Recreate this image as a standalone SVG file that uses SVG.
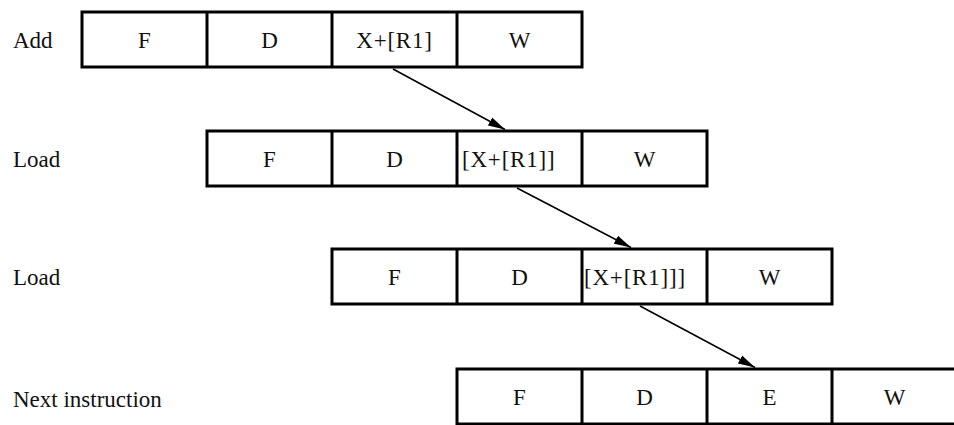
<svg xmlns="http://www.w3.org/2000/svg" width="954" height="425" viewBox="0 0 954 425">
<style>
.box{fill:#fff;stroke:#000;stroke-width:3}
.div{stroke:#000;stroke-width:3}
.t{font-family:"Liberation Serif","Times New Roman",serif;font-size:23px;fill:#111}
.c{text-anchor:middle}
.conn{stroke:#000;stroke-width:1.5;fill:none}
</style>
<defs>
<marker id="ah" markerUnits="userSpaceOnUse" markerWidth="18" markerHeight="10" refX="17" refY="5" orient="auto">
<path d="M0,0.5 L17,5 L0,9.5 z" fill="#000"/>
</marker>
</defs>
<rect width="954" height="425" fill="#fff"/>
<g id="row-add">
<text class="t" x="13" y="48">Add</text>
<rect class="box" x="82" y="12" width="500" height="55"/>
<line class="div" x1="207" y1="12" x2="207" y2="67"/>
<line class="div" x1="332" y1="12" x2="332" y2="67"/>
<line class="div" x1="457" y1="12" x2="457" y2="67"/>
<text class="t c" x="144.5" y="48">F</text>
<text class="t c" x="269.5" y="48">D</text>
<text class="t c" x="394.5" y="48" letter-spacing="0.8">X+[R1]</text>
<text class="t c" x="519.5" y="48">W</text>
</g>
<g id="row-load1">
<text class="t" x="13" y="167">Load</text>
<rect class="box" x="207" y="131" width="500" height="55"/>
<line class="div" x1="332" y1="131" x2="332" y2="186"/>
<line class="div" x1="457" y1="131" x2="457" y2="186"/>
<line class="div" x1="582" y1="131" x2="582" y2="186"/>
<text class="t c" x="269.5" y="167">F</text>
<text class="t c" x="394.5" y="167">D</text>
<text class="t" x="462" y="167" letter-spacing="0.8">[X+[R1]]</text>
<text class="t c" x="644.5" y="167">W</text>
</g>
<g id="row-load2">
<text class="t" x="13" y="285">Load</text>
<rect class="box" x="332" y="249" width="500" height="55"/>
<line class="div" x1="457" y1="249" x2="457" y2="304"/>
<line class="div" x1="582" y1="249" x2="582" y2="304"/>
<line class="div" x1="707" y1="249" x2="707" y2="304"/>
<text class="t c" x="394.5" y="285">F</text>
<text class="t c" x="519.5" y="285">D</text>
<text class="t" x="584" y="285" letter-spacing="0.8">[X+[R1]]]</text>
<text class="t c" x="769.5" y="285">W</text>
</g>
<g id="row-next">
<text class="t" x="13" y="407">Next instruction</text>
<rect class="box" x="457" y="369" width="500" height="55"/>
<line class="div" x1="582" y1="369" x2="582" y2="424"/>
<line class="div" x1="707" y1="369" x2="707" y2="424"/>
<line class="div" x1="832" y1="369" x2="832" y2="424"/>
<text class="t c" x="519.5" y="405">F</text>
<text class="t c" x="644.5" y="405">D</text>
<text class="t c" x="769.5" y="405">E</text>
<text class="t c" x="894.5" y="405">W</text>
</g>
<g id="connectors">
<line class="conn" x1="393" y1="69" x2="505" y2="129.5" marker-end="url(#ah)"/>
<line class="conn" x1="517" y1="188" x2="631" y2="247.5" marker-end="url(#ah)"/>
<line class="conn" x1="640" y1="306" x2="755" y2="367.5" marker-end="url(#ah)"/>
</g>
</svg>
